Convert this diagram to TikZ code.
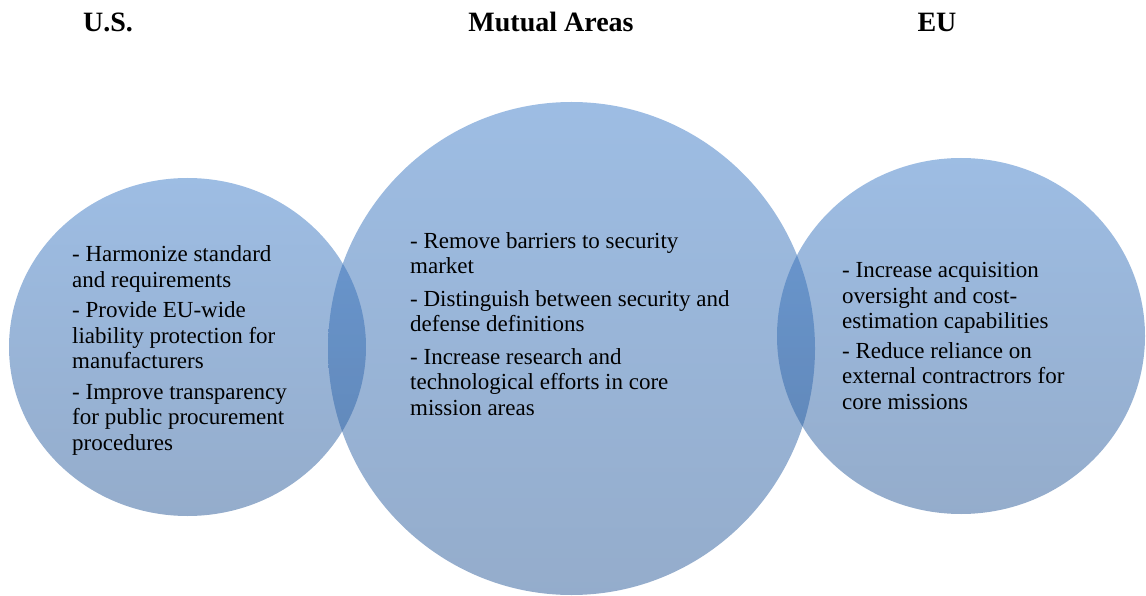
\documentclass[tikz,border=0pt]{standalone}
\usepackage{fontspec}
\setmainfont{Liberation Serif}
\usetikzlibrary{shapes.geometric, positioning}
\definecolor{bubbletop}{RGB}{60,123,200}
\definecolor{bubblebot}{RGB}{42,90,152}

\begin{document}
\begin{tikzpicture}[x=1pt, y=-1pt,
    bubble/.style={ellipse, draw=none, inner sep=0pt, top color=bubbletop, bottom color=bubblebot, fill opacity=0.5},
    heading/.style={font=\fontsize{28}{34}\selectfont\bfseries, anchor=base},
    points/.style={font=\fontsize{23}{25.5}\selectfont, align=left, anchor=base west, inner sep=0pt}
  ]
  \useasboundingbox (0,0) rectangle (1146,596);

  % the three sets
  \node[bubble, minimum width=357pt, minimum height=338pt] (usset) at (187.5,347) {};
  \node[bubble, minimum width=487pt, minimum height=493pt] (mutualset) at (571.5,348.5) {};
  \node[bubble, minimum width=368pt, minimum height=356pt] (euset) at (961,336) {};

  % column headings
  \node[heading] (us) at (108,32) {U.S.};
  \node[heading] (mutual) at (551,32) {Mutual Areas};
  \node[heading] (eu) at (937,32) {EU};

  % points inside each set (placed by the baseline of their last line)
  \node[points] (uspoints) at (72,450) {- Harmonize standard\\and requirements\\[5pt]- Provide EU-wide\\liability protection for\\manufacturers\\[5pt]- Improve transparency\\for public procurement\\procedures};
  \node[points] (mutualpoints) at (410,415) {- Remove barriers to security\\market\\[7pt]- Distinguish between security and\\defense definitions\\[7pt]- Increase research and\\technological efforts in core\\mission areas};
  \node[points] (eupoints) at (842,409) {- Increase acquisition\\oversight and cost-\\estimation capabilities\\[4pt]- Reduce reliance on\\external contractrors for\\core missions};
\end{tikzpicture}
\end{document}
